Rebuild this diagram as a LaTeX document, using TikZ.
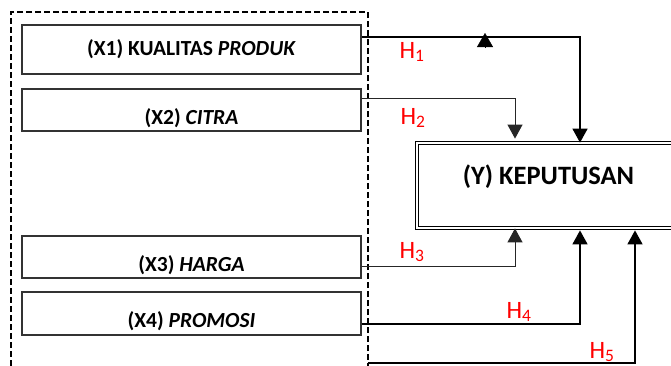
\documentclass[tikz,border=0pt]{standalone}
\usepackage{fontspec}
\setmainfont{Carlito}
\usetikzlibrary{arrows.meta}
\usetikzlibrary{positioning}

\begin{document}
\begin{tikzpicture}[x=1pt,y=-1pt,
varbox/.style={draw=black!80,line width=1.4pt,minimum width=339pt,inner sep=0pt,
  font=\fontsize{21.5}{24}\selectfont\bfseries},
lowtext/.style={text height=28pt,text depth=0pt},
hlabel/.style={text=red,inner sep=0pt,font=\fontsize{25}{27}\selectfont},
link/.style={line width=1.6pt,-{Triangle[width=15pt,length=14pt]}},
thinlink/.style={line width=1pt,draw=black!85,-{Triangle[width=15pt,length=14pt]}}]
\useasboundingbox (0,0) rectangle (671,365);
\node[draw,line width=1.5pt,dash pattern=on 6pt off 3pt,minimum width=357pt,
  minimum height=360pt,inner sep=0pt] (grp) at (189.5,192) {};
\node[varbox,minimum height=49pt] (x1) at (191.5,49.5) {(X1) KUALITAS \textit{PRODUK}};
\node[varbox,lowtext,minimum height=42pt] (x2) at (191.5,110) {(X2) \textit{CITRA}};
\node[varbox,lowtext,minimum height=42pt] (x3) at (191.5,257) {(X3) \textit{HARGA}};
\node[varbox,lowtext,minimum height=43pt] (x4) at (191.5,313.5) {(X4) \textit{PROMOSI}};
\node[draw=black,line width=0.8pt,double=white,double distance=2pt,
  minimum width=263pt,minimum height=85pt,inner sep=0pt,
  text height=15pt,text depth=18pt,
  font=\fontsize{26.5}{28}\selectfont\bfseries] (y) at (548.5,185.5) {(Y) KEPUTUSAN};
\coordinate (mid) at (485,37);
\coordinate (h5) at (368,363);
\draw[link] ([yshift=12.5pt]x1.east) -| ([xshift=31.5pt]y.north);
\draw[-{Triangle[width=16pt,length=14pt]}] ([yshift=-10pt]mid) -- ([yshift=4pt]mid);
\draw[thinlink,shorten >=4pt] ([yshift=12pt]x2.east) -| ([xshift=-33.5pt]y.north);
\draw[thinlink] ([yshift=-9pt]x3.east) -| ([xshift=-33.5pt]y.south);
\draw[link,shorten >=2pt] ([yshift=-10.5pt]x4.east) -| ([xshift=31.5pt]y.south);
\draw[link,shorten >=2pt] (h5) -| ([xshift=86.5pt]y.south);
\node[hlabel] (h1) at (412,52) {H\textsubscript{1}};
\node[hlabel] (h2) at (413,118) {H\textsubscript{2}};
\node[hlabel] (h3) at (412,252) {H\textsubscript{3}};
\node[hlabel] (h4) at (519,312) {H\textsubscript{4}};
\node[hlabel] (h5l) at (602,352) {H\textsubscript{5}};
\end{tikzpicture}
\end{document}
